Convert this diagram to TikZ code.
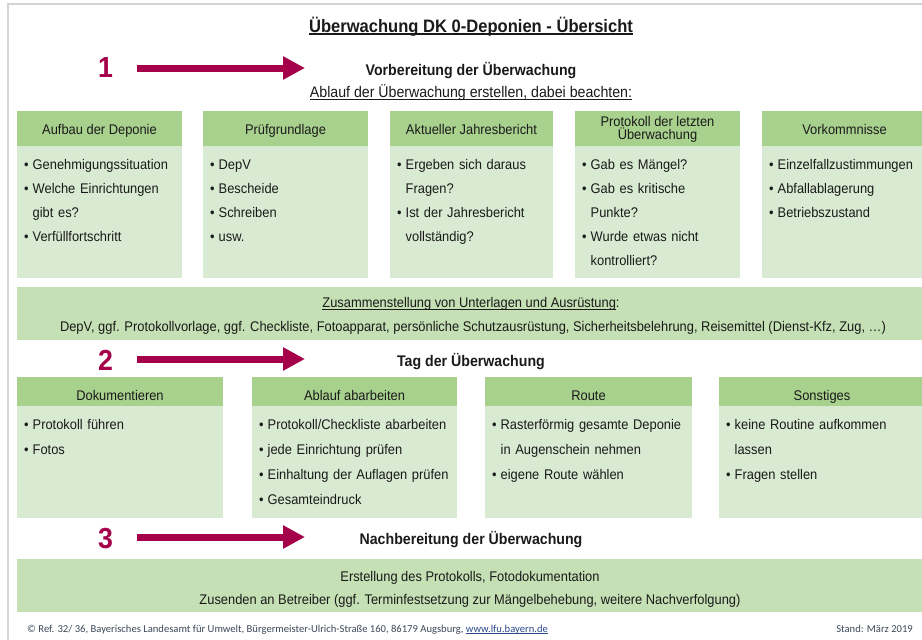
\documentclass[tikz,border=0pt]{standalone}
\usepackage{fontspec}
\setmainfont{Liberation Sans}[FakeStretch=0.92]
\newfontfamily\footfont{Carlito}
\usetikzlibrary{arrows.meta}
\definecolor{hdrgreen}{HTML}{A9D18E}
\definecolor{bodygreen}{HTML}{D9EAD2}
\definecolor{bannergreen}{HTML}{C5E0B4}
\definecolor{arrowred}{HTML}{A5004A}
\definecolor{bordergrey}{HTML}{D4D4D4}
\definecolor{txt}{HTML}{1A1A1A}
\definecolor{footgrey}{HTML}{3E4858}
\definecolor{footlink}{HTML}{2B4A8B}
\newcommand\bi[1]{\makebox[8.5pt][l]{•}#1}
\newcommand\bc[1]{\hspace*{8.5pt}#1}
% underline: #1 depth, #2 thickness, #3 text
\newcommand\myul[3]{\setbox0=\hbox{#3}\rlap{\rule[#1]{\wd0}{#2}}\box0}
\tikzset{
  hdrtext/.style={anchor=base, inner sep=0, text=txt, font=\fontsize{14}{11.5}\selectfont, align=center},
  bodyone/.style={anchor=base west, inner sep=0, text=txt, align=left, font=\fontsize{14}{24.2}\selectfont},
  bodytwo/.style={anchor=base west, inner sep=0, text=txt, align=left, font=\fontsize{14}{25}\selectfont},
  subtitle/.style={anchor=base, inner sep=0, text=txt, font=\fontsize{15.4}{17}\selectfont},
  numstyle/.style={anchor=base, inner sep=0, text=arrowred, font=\bfseries\fontsize{29}{30}\selectfont},
  phasearrow/.style={draw=arrowred, line width=7pt, -{Triangle[length=22pt,width=22pt]}},
  bannertext/.style={anchor=base, inner sep=0, text=txt, font=\fontsize{14}{16}\selectfont},
  foottext/.style={inner sep=0, text=footgrey, font=\footfont\fontsize{10.6}{12}\selectfont},
}
\begin{document}
\begin{tikzpicture}[x=1pt,y=-1pt]
\useasboundingbox (0,0) rectangle (922,640);
\fill[white] (0,0) rectangle (922,640);
\draw[bordergrey, line width=1.5pt] (8,640) -- (8,4) -- (922,4);

% title
\node[anchor=base, inner sep=0, text=txt, font=\bfseries\fontsize{18}{20}\selectfont] (title) at (471,32) {\myul{-2.8pt}{1.4pt}{Überwachung DK 0-Deponien - Übersicht}};

% phase 1
\node[numstyle] (n1) at (105.5,77) {1};
\coordinate (a1s) at (137,68);
\coordinate (a1e) at (305,68);
\draw[phasearrow] (a1s) -- (a1e);
\node[subtitle, font=\bfseries\fontsize{15.4}{17}\selectfont] (p1) at (471,75) {Vorbereitung der Überwachung};
\node[subtitle] (p1b) at (471,97) {\myul{-2.5pt}{1pt}{Ablauf der Überwachung erstellen, dabei beachten:}};

% row 1 boxes
\fill[hdrgreen] (17,111) rectangle (182,146);
\fill[bodygreen] (17,146) rectangle (182,278);
\fill[hdrgreen] (203,111) rectangle (368,146);
\fill[bodygreen] (203,146) rectangle (368,278);
\fill[hdrgreen] (390,111) rectangle (553,146);
\fill[bodygreen] (390,146) rectangle (553,278);
\fill[hdrgreen] (575,111) rectangle (740,146);
\fill[bodygreen] (575,146) rectangle (740,278);
\fill[hdrgreen] (762,111) rectangle (927,146);
\fill[bodygreen] (762,146) rectangle (927,278);

\node[hdrtext] (h11) at (99.5,134) {Aufbau der Deponie};
\node[hdrtext] (h12) at (285.5,134) {Prüfgrundlage};
\node[hdrtext] (h13) at (471.5,134) {Aktueller Jahresbericht};
\node[hdrtext] (h14) at (657.5,139.5) {Protokoll der letzten\\Überwachung};
\node[hdrtext] (h15) at (844.5,134) {Vorkommnisse};

\node[bodyone, text width=160pt] (b11) at (24,169) {\bi{Genehmigungssituation}\\\bi{Welche Einrichtungen}\\\bc{gibt es?}\\\bi{Verfüllfortschritt}};
\node[bodyone, text width=160pt] (b12) at (210,169) {\bi{DepV}\\\bi{Bescheide}\\\bi{Schreiben}\\\bi{usw.}};
\node[bodyone, text width=160pt] (b13) at (397,169) {\bi{Ergeben sich daraus}\\\bc{Fragen?}\\\bi{Ist der Jahresbericht}\\\bc{vollständig?}};
\node[bodyone, text width=160pt] (b14) at (582,169) {\bi{Gab es Mängel?}\\\bi{Gab es kritische}\\\bc{Punkte?}\\\bi{Wurde etwas nicht}\\\bc{kontrolliert?}};
\node[bodyone, text width=160pt] (b15) at (769,169) {\bi{Einzelfallzustimmungen}\\\bi{Abfallablagerung}\\\bi{Betriebszustand}};

% banner 1
\fill[bannergreen] (17,287) rectangle (927,340);
\node[bannertext] (z1) at (471,307) {\myul{-2.5pt}{0.9pt}{Zusammenstellung von Unterlagen und Ausrüstung}:};
\node[bannertext] (z2) at (473,331) {DepV, ggf. Protokollvorlage, ggf. Checkliste, Fotoapparat, persönliche Schutzausrüstung, Sicherheitsbelehrung, Reisemittel (Dienst-Kfz, Zug, …)};

% phase 2
\node[numstyle] (n2) at (105.5,370) {2};
\coordinate (a2s) at (137,359);
\coordinate (a2e) at (305,359);
\draw[phasearrow] (a2s) -- (a2e);
\node[subtitle, font=\bfseries\fontsize{15.4}{17}\selectfont] (p2) at (471,366) {Tag der Überwachung};

% row 2 boxes
\fill[hdrgreen] (17,377) rectangle (223,406);
\fill[bodygreen] (17,406) rectangle (223,518);
\fill[hdrgreen] (252,377) rectangle (457,406);
\fill[bodygreen] (252,406) rectangle (457,518);
\fill[hdrgreen] (485,377) rectangle (692,406);
\fill[bodygreen] (485,406) rectangle (692,518);
\fill[hdrgreen] (719,377) rectangle (925,406);
\fill[bodygreen] (719,406) rectangle (925,518);

\node[hdrtext] (h21) at (120,400) {Dokumentieren};
\node[hdrtext] (h22) at (354.5,400) {Ablauf abarbeiten};
\node[hdrtext] (h23) at (588.5,400) {Route};
\node[hdrtext] (h24) at (822,400) {Sonstiges};

\node[bodytwo, text width=200pt] (b21) at (24,429) {\bi{Protokoll führen}\\\bi{Fotos}};
\node[bodytwo, text width=200pt] (b22) at (259,429) {\bi{Protokoll/Checkliste abarbeiten}\\\bi{jede Einrichtung prüfen}\\\bi{Einhaltung der Auflagen prüfen}\\\bi{Gesamteindruck}};
\node[bodytwo, text width=200pt] (b23) at (492,429) {\bi{Rasterförmig gesamte Deponie}\\\bc{in Augenschein nehmen}\\\bi{eigene Route wählen}};
\node[bodytwo, text width=200pt] (b24) at (726,429) {\bi{keine Routine aufkommen}\\\bc{lassen}\\\bi{Fragen stellen}};

% phase 3
\node[numstyle] (n3) at (105.5,548) {3};
\coordinate (a3s) at (137,537);
\coordinate (a3e) at (305,537);
\draw[phasearrow] (a3s) -- (a3e);
\node[subtitle, font=\bfseries\fontsize{15.4}{17}\selectfont] (p3) at (471,544) {Nachbereitung der Überwachung};

% banner 2
\fill[bannergreen] (17,559) rectangle (927,612);
\node[bannertext] (e1) at (470,581) {Erstellung des Protokolls, Fotodokumentation};
\node[bannertext] (e2) at (470,604) {Zusenden an Betreiber (ggf. Terminfestsetzung zur Mängelbehebung, weitere Nachverfolgung)};

% footer
\node[foottext, anchor=base west] (foot) at (27,632) {© Ref. 32/ 36, Bayerisches Landesamt für Umwelt, Bürgermeister-Ulrich-Straße 160, 86179 Augsburg, {\color{footlink}\myul{-1.6pt}{0.6pt}{www.lfu.bayern.de}}};
\node[foottext, anchor=base east] (stand) at (913,632) {Stand: März 2019};
\end{tikzpicture}
\end{document}
